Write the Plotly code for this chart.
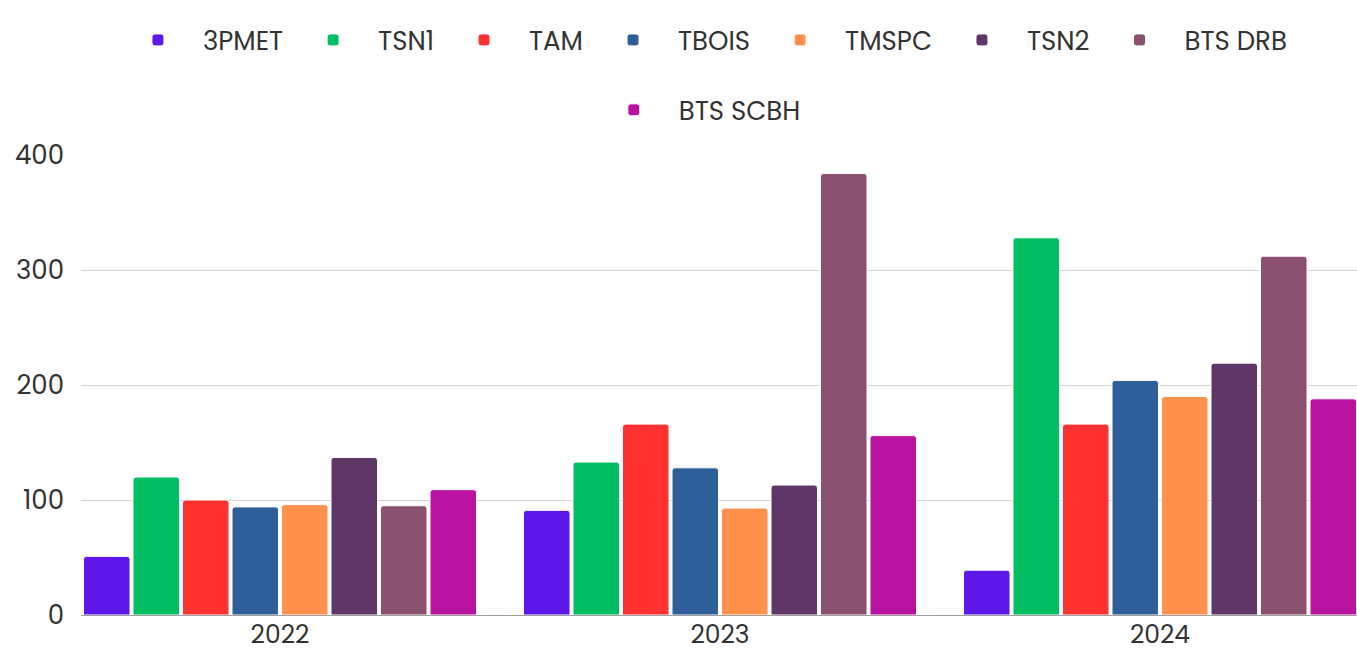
import plotly.graph_objects as go

years = ["2022", "2023", "2024"]
series_names = ["3PMET", "TSN1", "TAM", "TBOIS", "TMSPC", "TSN2", "BTS DRB", "BTS SCBH"]
v_3pmet = [51, 91, 39]
v_tsn1 = [120, 133, 328]
v_tam = [100, 166, 166]
v_tbois = [94, 128, 204]
v_tmspc = [96, 93, 190]
v_tsn2 = [137, 113, 219]
v_btsdrb = [95, 384, 312]
v_btsscbh = [109, 156, 188]
values = [v_3pmet, v_tsn1, v_tam, v_tbois, v_tmspc, v_tsn2, v_btsdrb, v_btsscbh]
colors = ["#5E17EB", "#00BF63", "#FF3131", "#2F5F98", "#FF914D", "#5E3766", "#8A5270", "#BA12A0"]

fig = go.Figure()
for i, (name, vals, col) in enumerate(zip(series_names, values, colors)):
    fig.add_trace(go.Bar(
        x=years, y=vals, name=name,
        marker=dict(color=col, line=dict(color="white", width=1), cornerradius=3),
        legend="legend2" if i == 7 else "legend",
    ))

font_family = "Poppins, Inter, 'Open Sans', sans-serif"
txt = "#333333"
fig.update_layout(
    width=1357, height=653,
    margin=dict(l=81, r=0, t=155, b=38, autoexpand=False),
    paper_bgcolor="white", plot_bgcolor="white",
    font=dict(family=font_family, size=26, color=txt),
    barmode="group", bargap=0.1, bargroupgap=0.06,
    legend=dict(orientation="h", x=0.487, xanchor="center", y=1.25, yanchor="middle",
                font=dict(size=26, color=txt), itemwidth=80, traceorder="normal"),
    legend2=dict(orientation="h", x=0.483, xanchor="center", y=1.098, yanchor="middle",
                 font=dict(size=26, color=txt), itemwidth=80),
    xaxis=dict(range=[-0.4523, 2.4477], showgrid=False, showline=True, linecolor="#9e9e9e",
               linewidth=1, ticks="", automargin=False, ticklabelstandoff=-3,
               tickfont=dict(size=25, color=txt)),
    yaxis=dict(range=[0, 400], dtick=100, showgrid=True, gridcolor="#d3d3d3", gridwidth=1,
               zeroline=False, showline=False, ticks="", ticklabelstandoff=16,
               automargin=False, tickfont=dict(size=26, color=txt)),
)

fig.write_html(
    "out.html",
    config={"displayModeBar": False},
    post_script="document.body.style.margin='0';document.body.style.overflow='hidden';",
)
